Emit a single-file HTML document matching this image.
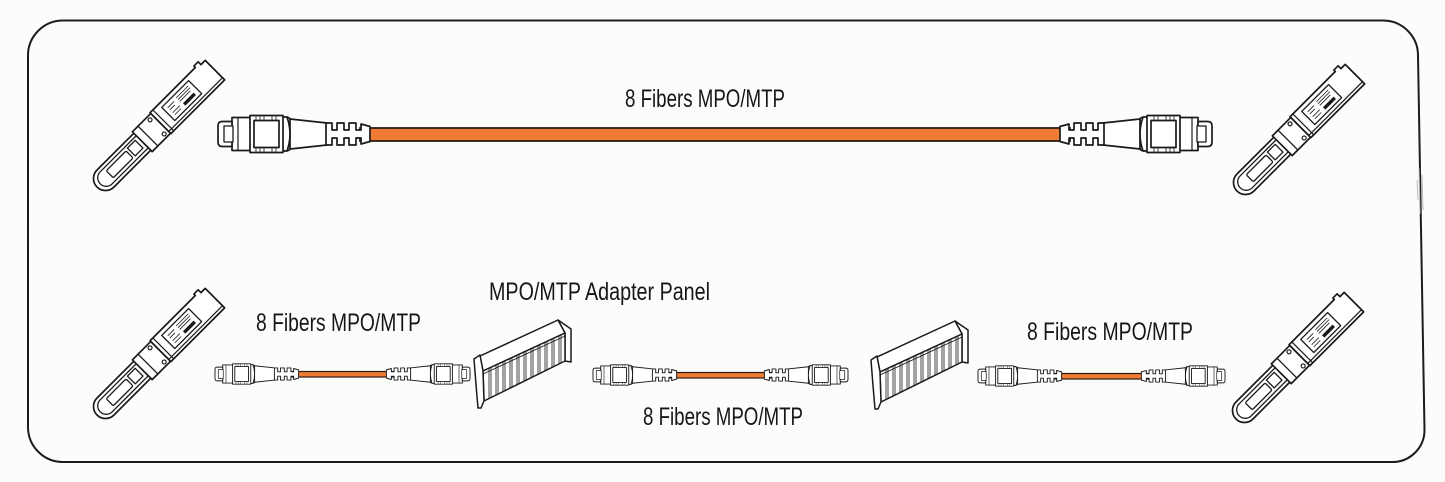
<!DOCTYPE html>
<html><head><meta charset="utf-8"><style>
html,body{margin:0;padding:0;background:#fcfcfb;}
svg{display:block;}
text{font-family:"Liberation Sans",sans-serif;fill:#161616;}
</style></head><body>
<svg width="1445" height="482" viewBox="0 0 1445 482" xmlns="http://www.w3.org/2000/svg">
<defs>
  <g id="conn" fill="#fff" stroke="#1a1a1a" stroke-width="1.7" stroke-linejoin="round">
    <path d="M72,-15 L109,-11 L109,11 L72,15 Z"/>
    <path d="M108,-11 L114,-11 L114,-4 L119,-4 L119,-11 L126,-11 L126,-4 L131,-4 L131,-11 L138,-11 L138,-4 L143,-4 L143,-10 L152,-7.5 L152,7.5 L143,10 L143,4 L138,4 L138,11 L131,11 L131,4 L126,4 L126,11 L119,11 L119,4 L114,4 L114,11 L108,11 Z"/>
    <path d="M64,-17 L69,-17 Q75,0 69,17 L64,17 Z"/>
    <path d="M69,-17 Q72,-16 73,-14 M69,17 Q72,16 73,14" fill="none"/>
    <rect x="14" y="-16.5" width="19" height="33"/>
    <rect x="32" y="-18.5" width="33" height="37"/>
    <rect x="36" y="-13.5" width="25" height="27"/>
    <path d="M38,-18 V-14 M42,-18 V-14 M46,-18 V-14 M54,-18 V-14 M58,-18 V-14 M38,18 V14 M42,18 V14 M46,18 V14 M54,18 V14 M58,18 V14" stroke-width="0.8"/>
    <line x1="20" y1="-16.5" x2="20" y2="16.5" stroke-width="1.2"/>
    <path d="M14,-12.5 L4,-12.5 Q0,-12.5 0,-8 L0,8 Q0,12.5 4,12.5 L14,12.5 Z"/>
    <rect x="6" y="-8" width="9" height="16" stroke-width="1.3"/>
  </g>
  <g id="xcvr" fill="#fff" stroke="#1a1a1a" stroke-width="1.7" stroke-linejoin="round">
    <path d="M-8,-12 L-70,-12 A12,12 0 0 0 -70,12 L-8,12 Z"/>
    <path d="M-14,-8.5 L-69,-8.5 A8.5,8.5 0 0 0 -69,8.5 L-14,8.5" fill="none" stroke-width="1.3"/>
    <rect x="-64" y="-5" width="28" height="10" rx="1.5" stroke-width="1.3"/>
    <rect x="-33" y="-6" width="11" height="11" stroke-width="1.3"/>
    <path d="M-18,-14 L8,-14 L8,14 L-18,14 Z"/>
    <line x1="-10" y1="-14" x2="-10" y2="14" stroke-width="1.3"/>
    <path d="M8,-15 L72,-15 L72,-17 L78,-17 L78,-13 L84,-13 L84,14.5 L8,14.5 Z"/>
    <line x1="12" y1="-15" x2="12" y2="14.5" stroke-width="1.2"/>
    <line x1="8" y1="11.5" x2="84" y2="11.5" stroke-width="1.2"/>
    <circle cx="3" cy="-10" r="2" stroke-width="1.2"/>
    <circle cx="3" cy="10" r="2" stroke-width="1.2"/>
    <rect x="20" y="-10.5" width="38" height="18.5" stroke-width="1.3"/>
    <rect x="38" y="1.5" width="15" height="3.5" fill="#1a1a1a" stroke="none"/>
    <path d="M24,-6 H33 M24,-3 H31 M24,1 H34 M24,4 H33 M37,-7 H54 M37,-4.5 H54 M37,-2 H52" stroke-width="0.8"/>
  </g>
  <g id="panel" fill="#fff" stroke="#1a1a1a" stroke-width="1.5" stroke-linejoin="round">
    <path d="M558,320 L571,329 L571,362 L565,361 L565,333 Z"/>
    <path d="M480,356 L558,320 L565,333 L483,371 Z"/>
    <path d="M483,371 L565,333 L565,361 L484,401 Z"/>
    <path d="M483,374 L565,336" fill="none" stroke-width="0.9"/>
    <path d="M474,359 L480,355 L483,371 L484,401 L481,408 L478,408 Q476,385 474,359 Z"/>
    <path d="M489,368.2 V398.5 M491,367.3 V397.5 M496,365 V395.1 M498,364 V394.1 M503,361.7 V391.6 M505,360.8 V390.6 M510,358.5 V388.2 M512,357.6 V387.2 M517,355.2 V384.7 M519,354.3 V383.7 M524,352 V381.3 M526,351 V380.3 M531,348.8 V377.8 M533,347.9 V376.8 M538,345.5 V374.3 M540,344.6 V373.3 M545,342.3 V370.9 M547,341.4 V369.9 M552,339 V367.4 M554,338.1 V366.4 M559,335.8 V364 M561,334.9 V363" fill="none" stroke-width="0.8"/>
  </g>
</defs>

<!-- frame -->
<path d="M63,20.5 H1383 A35,35 0 0 1 1418,55.5 L1424.5,430 A32,32 0 0 1 1392.5,462 H63 A35,35 0 0 1 28,427 V55.5 A35,35 0 0 1 63,20.5 Z" fill="none" stroke="#1c1c1c" stroke-width="2"/>
<path d="M1419,168 L1420,214 M1422,175 L1423,210 M1417,180 L1418,200" stroke="#b8b8b8" stroke-width="1"/>

<!-- top row -->
<rect x="360" y="128" width="710" height="13" fill="#f07c33" stroke="#2b1d14" stroke-width="1.8"/>
<use href="#conn" transform="translate(218,134)"/>
<use href="#conn" transform="translate(1212,134) scale(-1,1)"/>
<use href="#xcvr" transform="translate(155,129) rotate(-45)"/>
<use href="#xcvr" transform="translate(1295,133) rotate(-45)"/>
<text x="625" y="107" font-size="25" textLength="160" lengthAdjust="spacingAndGlyphs">8 Fibers MPO/MTP</text>

<!-- bottom row -->
<use href="#xcvr" transform="translate(155,357) rotate(-45)"/>
<use href="#xcvr" transform="translate(1294,361) rotate(-45)"/>

<rect x="292" y="371.5" width="103" height="5.5" fill="#f07c33" stroke="#2b1d14" stroke-width="1.2"/>
<use href="#conn" transform="translate(215,374) scale(0.55)"/>
<use href="#conn" transform="translate(470,374) scale(-0.55,0.55)"/>

<rect x="670" y="372.5" width="103" height="5.5" fill="#f07c33" stroke="#2b1d14" stroke-width="1.2"/>
<use href="#conn" transform="translate(593,375) scale(0.55)"/>
<use href="#conn" transform="translate(848,375) scale(-0.55,0.55)"/>

<rect x="1055" y="373.5" width="95" height="5.5" fill="#f07c33" stroke="#2b1d14" stroke-width="1.2"/>
<use href="#conn" transform="translate(978,376) scale(0.55)"/>
<use href="#conn" transform="translate(1225,376) scale(-0.55,0.55)"/>

<use href="#panel"/>
<use href="#panel" transform="translate(397,1)"/>

<text x="256" y="331" font-size="25" textLength="165" lengthAdjust="spacingAndGlyphs">8 Fibers MPO/MTP</text>
<text x="489" y="300" font-size="25" textLength="221" lengthAdjust="spacingAndGlyphs">MPO/MTP Adapter Panel</text>
<text x="643" y="425" font-size="25" textLength="160" lengthAdjust="spacingAndGlyphs">8 Fibers MPO/MTP</text>
<text x="1027" y="340" font-size="25" textLength="166" lengthAdjust="spacingAndGlyphs">8 Fibers MPO/MTP</text>
</svg>
</body></html>
